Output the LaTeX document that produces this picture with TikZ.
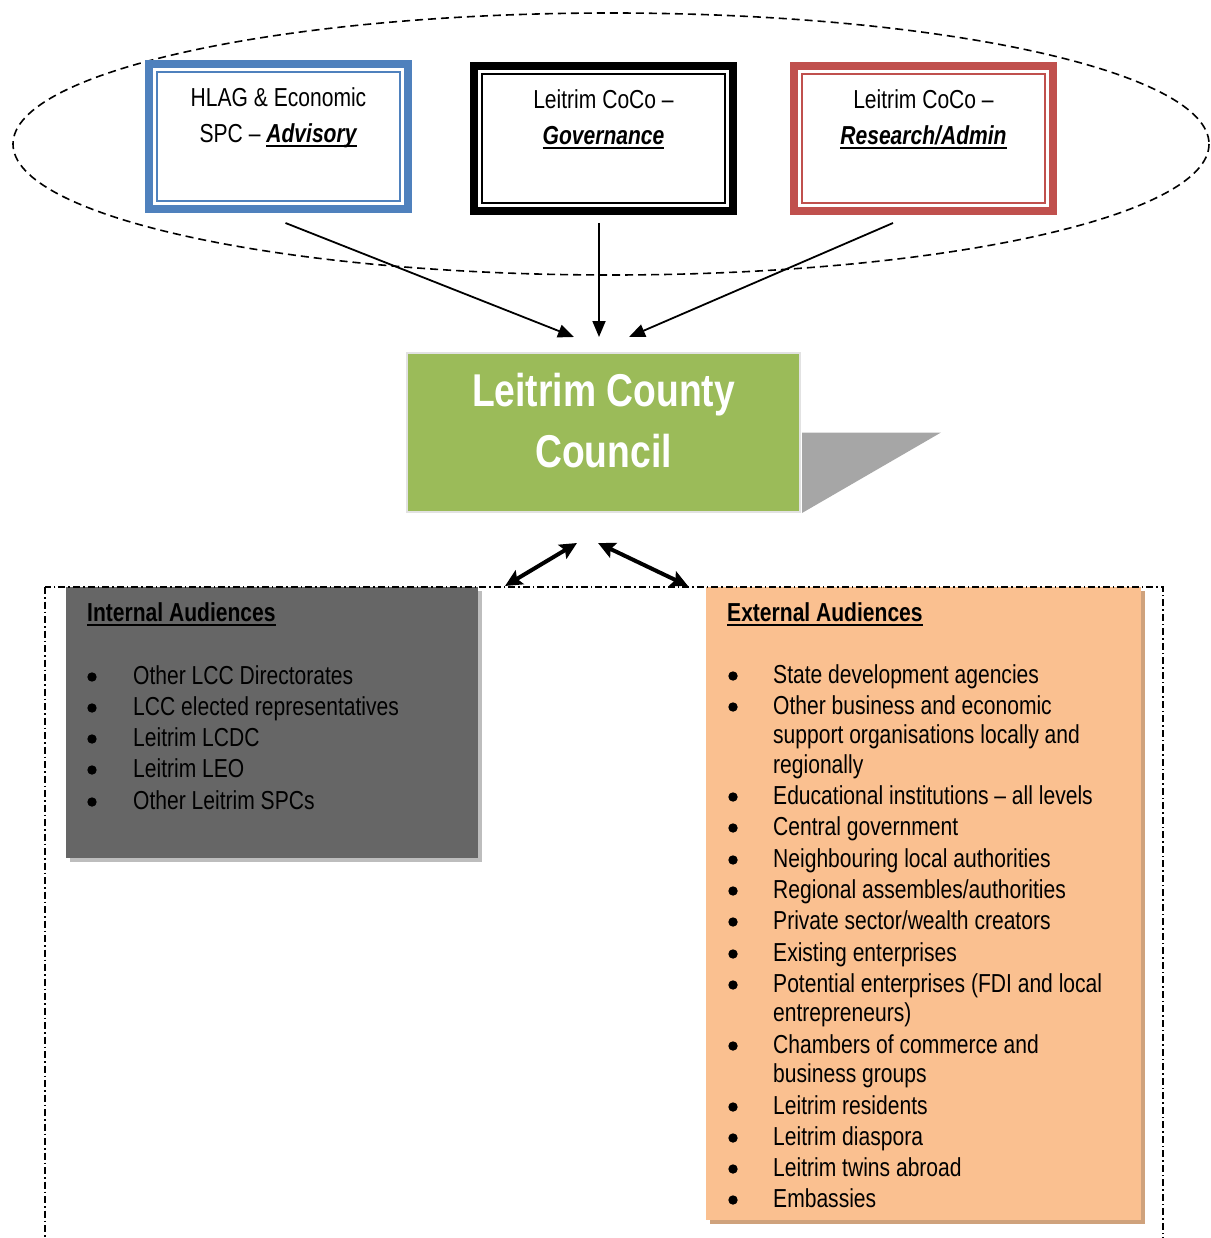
\documentclass[tikz,border=0pt]{standalone}
\usepackage{fontspec}
\setmainfont{Liberation Sans}[FakeStretch=0.81]
\usetikzlibrary{arrows.meta, shadows}
\definecolor{advisory-blue}{HTML}{4F81BD}
\definecolor{research-red}{HTML}{C0504D}
\definecolor{council-green}{HTML}{9BBB59}
\definecolor{council-edge}{HTML}{E2E2E2}
\definecolor{fold-grey}{HTML}{A6A6A6}
\definecolor{internal-bg}{HTML}{666666}
\definecolor{internal-shadow}{HTML}{BDBDBD}
\definecolor{external-bg}{HTML}{FAC090}
\definecolor{external-shadow}{HTML}{CFA27C}
\newcommand{\keyline}[1]{\setbox0\hbox{#1}\rlap{\rule[-4.5pt]{\wd0}{2pt}}\box0}
\newcommand{\boxkey}[1]{\keyline{\textbf{\textit{#1}}}}
\newcommand{\listhead}[1]{\keyline{\textbf{#1}}}

\begin{document}
\begin{tikzpicture}[x=1pt, y=-1pt,
      every node/.style={font=\fontsize{26}{31}\selectfont, inner sep=0pt},
      outerbox/.style={draw=#1, fill=white, line width=8pt,
                       minimum width=259, minimum height=145},
      innerbox/.style={draw=#1, line width=2pt,
                       minimum width=243, minimum height=129},
      toparrow/.style={line width=1.8pt, -{Triangle[length=16pt, width=13pt]}},
      bothways/.style={line width=4pt,
                       {Stealth[length=17pt, width=16pt, inset=3pt]}-{Stealth[length=17pt, width=16pt, inset=3pt]}},
      dashdot/.style={line width=1.3pt, dash pattern=on 7pt off 3pt on 1.5pt off 3pt}]
    \useasboundingbox (0,0) rectangle (1210,1238);
    \draw[line width=1.6pt, dash pattern=on 8pt off 5pt]
      (611,144) ellipse [x radius=598, y radius=131];
    \foreach \name/\col/\x/\y/\first/\second in {
        hlag/advisory-blue/278.5/136.5/{HLAG \& Economic}/{SPC -- \boxkey{Advisory}},
        govern/black/603.5/138.5/{Leitrim CoCo --}/{\boxkey{Governance}},
        research/research-red/923.5/138.5/{Leitrim CoCo --}/{\boxkey{Research/Admin}}} {
      \node[outerbox=\col] (\name) at (\x,\y) {};
      \node[innerbox=\col] at (\x,\y) {};
      \node[anchor=base] (\name-a) at (\x,\y-29.5) {\first};
      \node[anchor=base] (\name-b) at (\x,\y+6.5) {\second};
    }
    \node[fill=council-green, draw=council-edge, line width=2pt,
          minimum width=393, minimum height=159] (lcc) at (603.5,432.5) {};
    \fill[fold-grey] ([xshift=1pt]lcc.east) -- ++(139,0) -- ([xshift=1pt]lcc.south east) -- cycle;
    \node[anchor=base, text=white, font=\fontsize{46}{55}\selectfont\bfseries]
      (lcc-a) at (603.5,406.5) {Leitrim County};
    \node[anchor=base, text=white, font=\fontsize{46}{55}\selectfont\bfseries]
      (lcc-b) at (603.5,467) {Council};
    \coordinate (in-left) at (574,337);
    \coordinate (in-mid) at (599,337);
    \coordinate (in-right) at (629,337);
    \draw[toparrow] ([xshift=7pt, yshift=-10pt]hlag.south) -- (in-left);
    \draw[toparrow] ([xshift=-4.5pt, yshift=-8pt]govern.south) -- (in-mid);
    \draw[toparrow] ([xshift=-30.5pt, yshift=-8pt]research.south) -- (in-right);
    \node[fill=internal-bg, minimum width=412, minimum height=271,
          drop shadow={shadow xshift=4pt, shadow yshift=-4pt, fill=internal-shadow, opacity=1}]
      (internal) at (272,722.5) {};
    \node[fill=external-bg, minimum width=435, minimum height=633,
          drop shadow={shadow xshift=4pt, shadow yshift=-4pt, fill=external-shadow, opacity=1}]
      (external) at (923.5,903.5) {};
    \node[anchor=base west] (int-head) at (87,621) {\listhead{Internal Audiences}};
    \node[anchor=base west] (ext-head) at (727,621) {\listhead{External Audiences}};
    \foreach \ln/\txt in {684/{Other LCC Directorates}, 715/{LCC elected representatives},
        746/{Leitrim LCDC}, 777/{Leitrim LEO}, 809/{Other Leitrim SPCs}} {
      \fill (92,\ln-7) circle (4.7);
      \node[anchor=base west] (int-\ln) at (133,\ln) {\txt};
    }
    \foreach \ln/\txt/\dot in {683/{State development agencies}/1,
        714/{Other business and economic}/1, 743/{support organisations locally and}/0,
        773/{regionally}/0, 804/{Educational institutions -- all levels}/1,
        835/{Central government}/1, 867/{Neighbouring local authorities}/1,
        898/{Regional assembles/authorities}/1, 929/{Private sector/wealth creators}/1,
        961/{Existing enterprises}/1, 992/{Potential enterprises (FDI and local}/1,
        1021/{entrepreneurs)}/0, 1053/{Chambers of commerce and}/1,
        1082/{business groups}/0, 1114/{Leitrim residents}/1, 1145/{Leitrim diaspora}/1,
        1176/{Leitrim twins abroad}/1, 1207/{Embassies}/1} {
      \ifnum\dot=1
        \fill (733,\ln-7) circle (4.7);
      \fi
      \node[anchor=base west] (ext-\ln) at (773,\ln) {\txt};
    }
    \coordinate (up-left) at (577,543);
    \coordinate (up-right) at (598,543);
    \coordinate (down-left) at (505,586);
    \coordinate (down-right) at (688,586);
    \draw[bothways] (down-left) -- (up-left);
    \draw[bothways] (up-right) -- (down-right);
    \draw[dashdot] (45,587) rectangle (1163,1270);
  \end{tikzpicture}
\end{document}
